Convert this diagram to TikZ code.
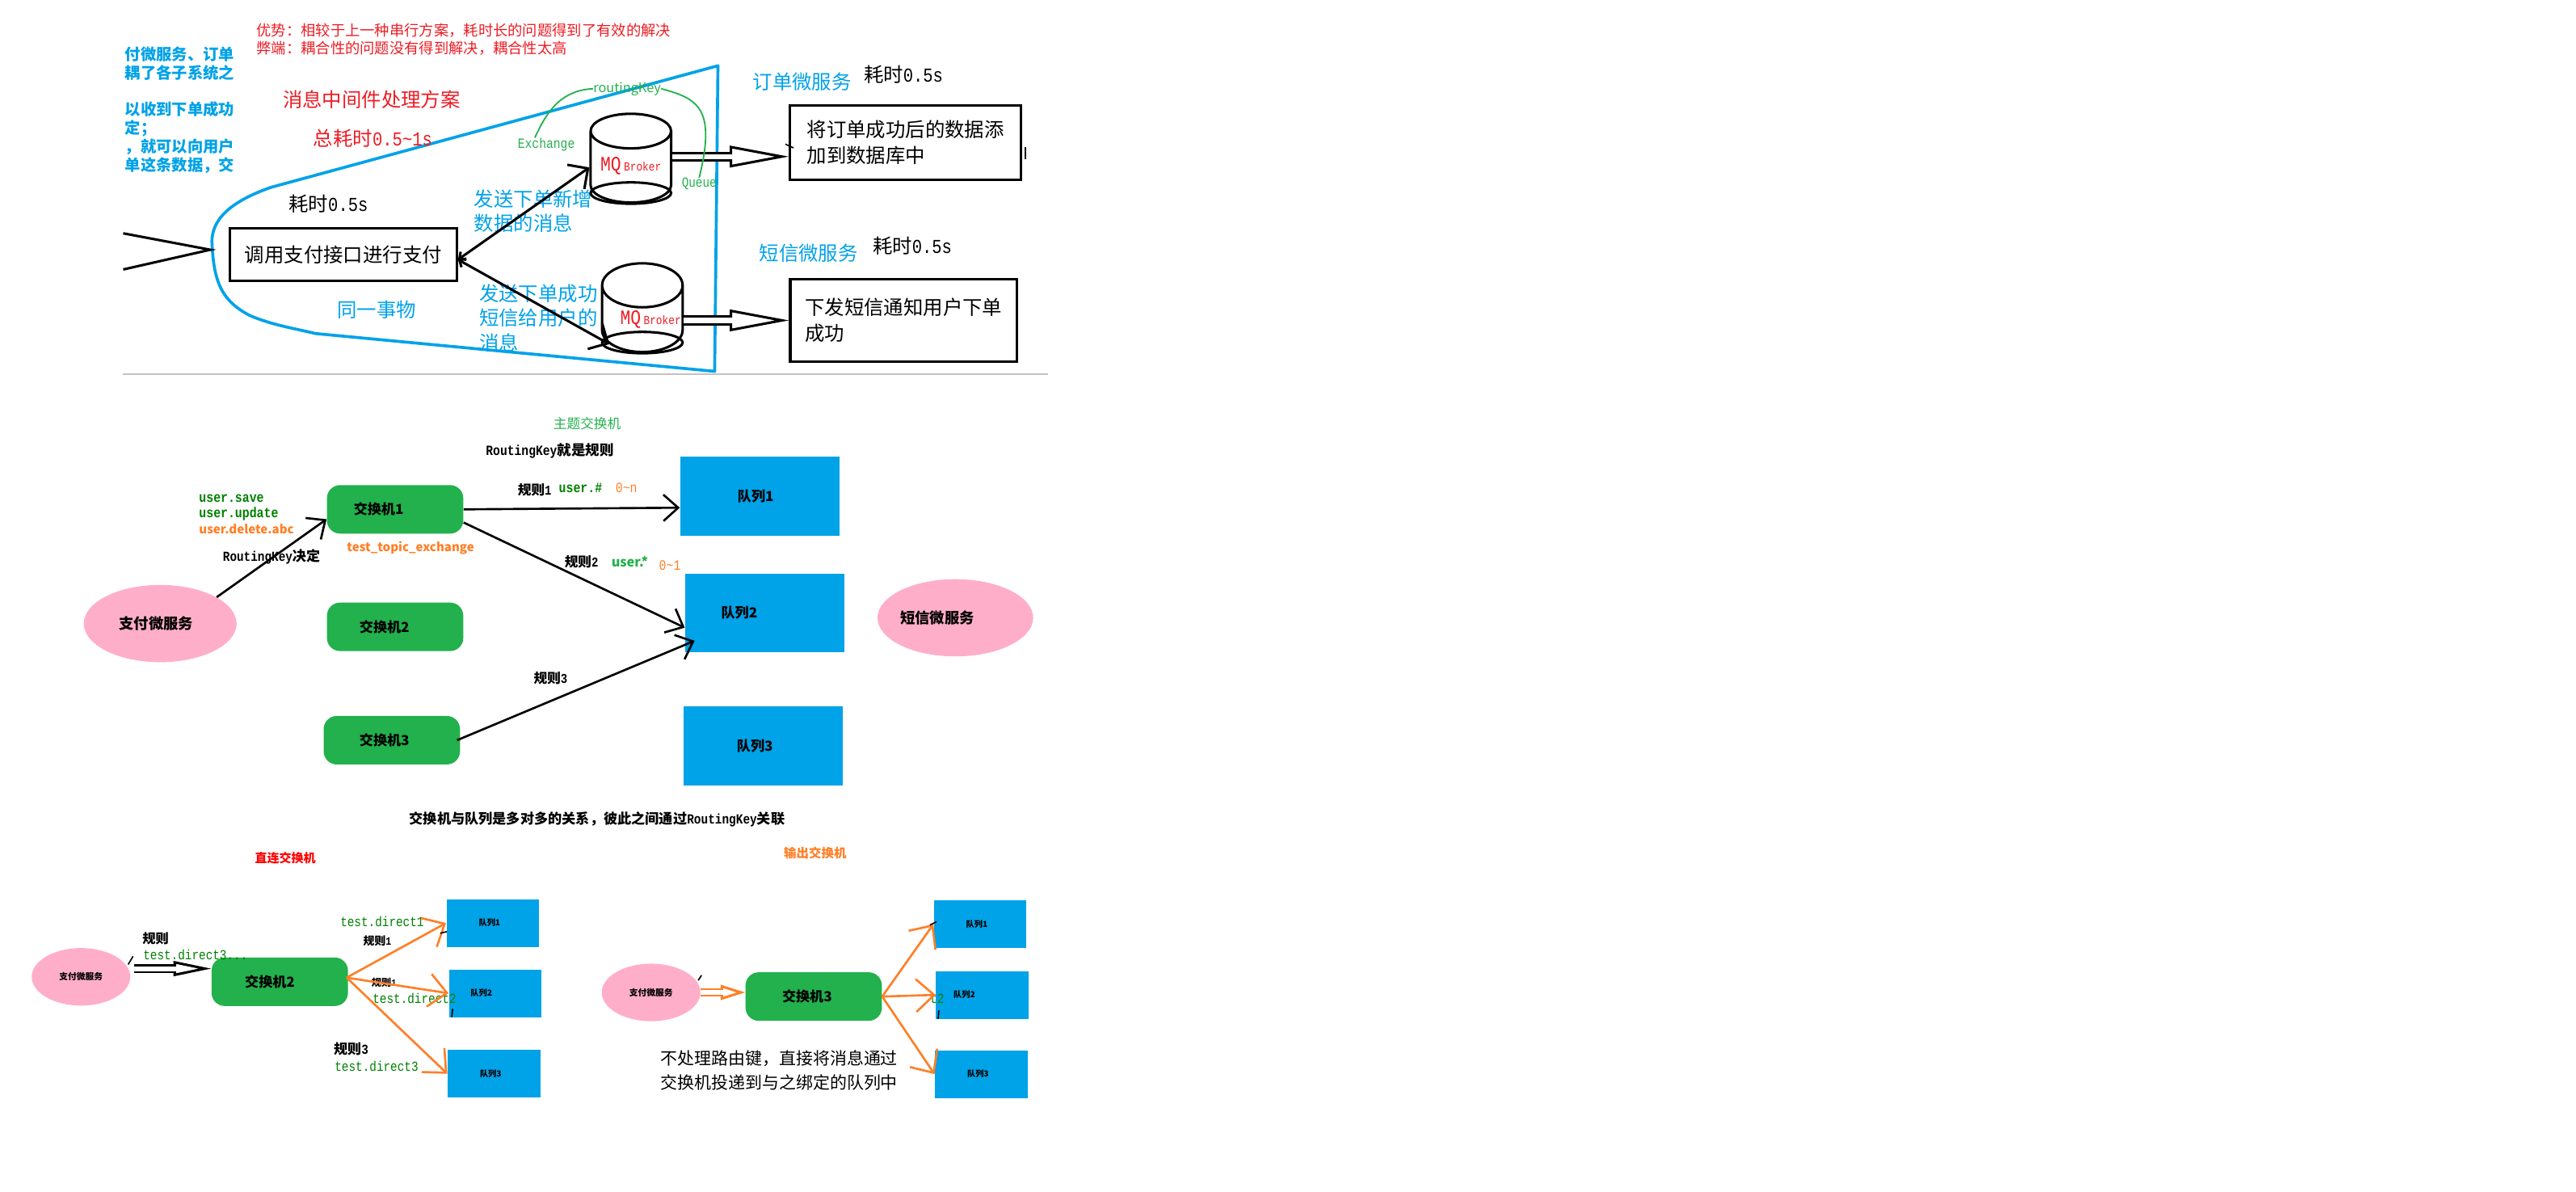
\documentclass[tikz,border=0pt]{standalone}
\usepackage{fontspec}
\setmainfont{Noto Sans CJK SC}
\setmonofont[FakeStretch=0.84]{Liberation Mono}
\usetikzlibrary{arrows.meta,positioning,shapes.geometric}
\definecolor{skyb}{HTML}{00A2E8}
\definecolor{exgreen}{HTML}{22B14C}
\definecolor{keygreen}{HTML}{008000}
\definecolor{msorange}{HTML}{FF7F27}
\definecolor{mspink}{HTML}{FFAEC9}
\definecolor{msred}{HTML}{ED1C24}
\newcommand{\zcomma}{\char"FF0C\relax}
\newcommand{\zcolon}{\char"FF1A\relax}
\newcommand{\zsemi}{\char"FF1B\relax}
\begin{document}
\begin{tikzpicture}[
  x=1pt, y=-1pt,
  sz/.style 2 args={font=\fontsize{#1}{#2}\selectfont},
  txt/.style={inner sep=0pt, anchor=west, align=left},
  pbox/.style={rectangle, draw, line width=1.6pt, align=left, inner sep=0pt, sz={12}{15.5}},
  cyl/.style={cylinder, shape border rotate=90, aspect=0.57, anchor=south, draw, line width=1.5pt, inner sep=0pt, minimum width=49pt, minimum height=54pt},
  cylend/.style={ellipse, draw, line width=1.5pt, inner sep=0pt, minimum width=49pt, minimum height=13pt},
  exch/.style={rectangle, rounded corners=8pt, fill=exgreen, minimum width=83pt, minimum height=29.5pt, inner sep=0pt, font=\fontsize{8.4}{10}\selectfont\bfseries},
  que/.style={rectangle, fill=skyb, minimum width=97pt, minimum height=48pt, inner sep=0pt, font=\fontsize{8.4}{10}\selectfont\bfseries},
  quesm/.style={rectangle, fill=skyb, minimum width=56.5pt, minimum height=29pt, inner sep=0pt, font=\fontsize{5}{6}\selectfont\bfseries},
  svc/.style={ellipse, fill=mspink, minimum width=93pt, minimum height=47pt, inner sep=0pt, font=\fontsize{9}{10}\selectfont\bfseries},
  svcsm/.style={ellipse, fill=mspink, minimum width=60pt, minimum height=35pt, inner sep=0pt, font=\fontsize{5.3}{6}\selectfont\bfseries},
  arr/.style={-{Straight Barb[length=9pt,width=16pt]}, line width=1.3pt},
  barr/.style={{Straight Barb[length=3pt,width=6pt]}-{Straight Barb[length=9pt,width=18pt]}, line width=1.5pt},
  oarr/.style={-{Straight Barb[length=11pt,width=20pt]}, line width=1.3pt, draw=msorange},
  hollow/.style n args={3}{line width=1.5pt, double=white, double distance=3pt, arrows={#3-{Triangle[open,length=#1,width=#2,line width=1.5pt]}}, postaction={draw=white, double=none, line width=3pt, -, shorten >=#1-3pt}},
  kbrace/.style={draw=exgreen, line width=0.9pt}
]
\useasboundingbox (0,0) rectangle (1568,725);

\draw[skyb, line width=1.8pt, line join=round] (437,40) -- (165,114) .. controls (145,121) and (129,131) .. (129,147) .. controls (130,172) and (135,183) .. (152,192) .. controls (166,198) and (180,200) .. (192,203) -- (435,226) -- cycle;
\coordinate (ruleL) at (75,227.5);
\coordinate (ruleR) at (638,227.5);
\draw[black!24, line width=1pt] (ruleL) -- (ruleR);

\node[txt, text=skyb, font=\fontsize{9.5}{11.3}\selectfont\bfseries] (cutnote) at (76,67) {付微服务、订单\\耦了各子系统之\\[11.3pt]以收到下单成功\\定\zsemi\\\zcomma 就可以向用户\\单这条数据\zcomma 交};
\node[txt, sz={9}{11}, text=msred] (gain) at (156,24) {优势\zcolon 相较于上一种串行方案\zcomma 耗时长的问题得到了有效的解决\\弊端\zcolon 耦合性的问题没有得到解决\zcomma 耦合性太高};
\node[txt, sz={12}{15}, text=msred] (plan) at (172,60.6) {消息中间件处理方案};
\node[txt, sz={12}{15}, text=msred] (total) at (190.6,84) {总耗时{\ttfamily 0.5\textasciitilde 1s}};
\node[txt, sz={12}{15}] (costpay) at (175.6,124) {耗时{\ttfamily 0.5s}};
\node[pbox, minimum width=138pt, minimum height=32pt] (pay) at (209,155) {调用支付接口进行支付};
\node[txt, sz={12}{15}, text=skyb] (sametx) at (205,188.5) {同一事物};
\node[txt, sz={12}{15}, text=skyb] (sendorder) at (288.5,128.5) {发送下单新增\\数据的消息};
\node[txt, sz={12}{15}, text=skyb] (sendmsg) at (291.5,193.5) {发送下单成功\\短信给用户的\\消息};

\node[cyl, text=msred] (mq1) at (384,124) {\raisebox{4pt}{{\fontsize{12.5}{14}\selectfont\ttfamily MQ}\,{\fontsize{7.5}{9}\selectfont\ttfamily Broker}}};
\node[cylend] (mq1end) at ([yshift=6.5pt]mq1.south) {};
\node[cyl, text=msred] (mq2) at (391,215) {\hspace*{10pt}\raisebox{2pt}{{\fontsize{12.5}{14}\selectfont\ttfamily MQ}\,{\fontsize{7.5}{9}\selectfont\ttfamily Broker}}};
\node[cylend] (mq2end) at ([yshift=6.5pt]mq2.south) {};

\node[txt, sz={8.6}{10}, text=exgreen] (xlabel) at (315,88) {\ttfamily Exchange};
\node[txt, sz={8}{10}, text=exgreen] (rklabel) at (361,54) {routingKey};
\node[txt, sz={8.4}{10}, text=exgreen] (qlabel) at (414.8,112) {\ttfamily Queue};

\node[txt, sz={12}{15}, text=skyb] (ordersvc) at (458,50) {订单微服务};
\node[txt, sz={12}{15}] (costorder) at (525.6,45.6) {耗时{\ttfamily 0.5s}};
\node[pbox, minimum width=140.5pt, minimum height=45.5pt] (orderbox) at (551.2,86.8) {将订单成功后的数据添\\加到数据库中};
\node[txt, sz={12}{15}, text=skyb] (msgsvc) at (462,154) {短信微服务};
\node[txt, sz={12}{15}] (costmsg) at (531,149.6) {耗时{\ttfamily 0.5s}};
\node[pbox, minimum width=138pt, minimum height=50pt] (msgbox) at (550,195) {下发短信通知用户下单\\成功};
\coordinate (orderin) at ([yshift=-8.5pt]orderbox.west);

\draw[barr] ([yshift=-3pt]pay.east) -- (mq1.west);
\draw[barr] ([yshift=-3pt]pay.east) -- (mq2.217);
\draw[hollow={36pt}{13pt}{}] (mq1.east |- orderin) -- (orderin);
\draw[hollow={36pt}{13pt}{}] (mq2.east |- msgbox.west) -- (msgbox.west);
\draw[kbrace] (xlabel.north) ++(-7pt,0pt) .. controls (332,70) and (340,55) .. (rklabel.west);
\draw[kbrace] (rklabel.east) .. controls (425,60) and (436,66) .. (qlabel.north);

\coordinate (handtop) at (75,142);
\coordinate (handtip) at (128,152);
\coordinate (handbot) at (75,164);
\draw[line width=1.5pt] (handtop) -- (handtip) -- (handbot);

\node[txt, sz={8.2}{10}, text=exgreen] (topichead) at (336.7,258) {主题交换机};
\node[txt, font=\fontsize{8.6}{10}\selectfont\bfseries] (rkrule) at (295.6,274.6) {{\ttfamily RoutingKey}就是规则};
\node[svc] (paysvc) at (97.5,379.5) {支付微服务\kern5pt};
\node[exch] (ex1) at (240.5,310) {交换机1\kern20pt};
\node[exch] (ex2) at (240.5,381.5) {交换机2\kern13pt};
\node[exch] (ex3) at (238.5,450.5) {交换机3\kern9pt};
\node[que] (q1) at (462.5,302) {队列1\kern5pt};
\node[que] (q2) at (465.5,373) {队列2\kern31pt};
\node[que] (q3) at (464.5,454) {队列3\kern10pt};
\node[svc] (smssvc) at (581.5,376) {短信微服务\kern22pt};

\node[txt, font=\fontsize{8.7}{10}\selectfont\ttfamily\bfseries, text=keygreen] (ksave) at (121,303.4) {user.save};
\node[txt, font=\fontsize{8.7}{10}\selectfont\ttfamily\bfseries, text=keygreen] (kupdate) at (121,313) {user.update};
\node[txt, font=\fontsize{7.4}{10}\selectfont\bfseries, text=msorange] (kdelete) at (121,321.8) {user.delete.abc};
\node[txt, font=\fontsize{8.4}{10}\selectfont\bfseries] (rkdecide) at (135.5,338.6) {{\ttfamily RoutingKey}决定};
\node[txt, font=\fontsize{7.4}{10}\selectfont\bfseries, text=msorange] (extopic) at (211,333.6) {test\_topic\_exchange};
\node[txt, font=\fontsize{8.2}{10}\selectfont\bfseries] (r1) at (315,298) {规则{\ttfamily 1}};
\node[txt, font=\fontsize{8.7}{10}\selectfont\ttfamily\bfseries, text=keygreen] (k1) at (340,297) {user.\#};
\node[txt, font=\fontsize{8.7}{10}\selectfont\ttfamily, text=msorange] (c1) at (374.5,297) {0\textasciitilde n};
\node[txt, font=\fontsize{8.2}{10}\selectfont\bfseries] (r2) at (343.5,342) {规则{\ttfamily 2}};
\node[txt, font=\fontsize{8}{10}\selectfont\bfseries\itshape, text=exgreen] (k2) at (372,342) {user.*};
\node[txt, font=\fontsize{8.7}{10}\selectfont\ttfamily, text=msorange] (c2) at (401,344) {0\textasciitilde 1};
\node[txt, font=\fontsize{8.2}{10}\selectfont\bfseries] (r3) at (324.7,412.7) {规则{\ttfamily 3}};
\node[txt, font=\fontsize{8.45}{10}\selectfont\bfseries] (manymany) at (249,498.5) {交换机与队列是多对多的关系\zcomma 彼此之间通过{\ttfamily RoutingKey}关联};

\draw[arr] (paysvc.25) -- ([yshift=-6pt]ex1.west);
\draw[arr] (ex1.east) -- ([yshift=-7pt]q1.west);
\draw[arr] ([yshift=-8pt]ex1.east) -- ([yshift=-9pt]q2.west);
\draw[arr] ([xshift=-2pt]ex3.east) -- ([xshift=6pt,yshift=-17pt]q2.west);

\node[txt, font=\fontsize{7.4}{9}\selectfont\bfseries, text=red] (directhead) at (155,522) {直连交换机};
\node[svcsm] (payd) at (49.3,594.5) {支付微服务};
\node[exch] (exd) at (170.3,597.5) {交换机2\kern12pt};
\node[quesm] (qd1) at (300,561.75) {队列1\kern4pt};
\node[quesm] (qd2) at (301.5,604.5) {队列2\kern17pt};
\node[quesm] (qd3) at (300.7,653.5) {队列3\kern4pt};
\node[txt, font=\fontsize{8}{10}\selectfont\bfseries] (rd0) at (86.6,571) {规则};
\node[txt, font=\fontsize{8.4}{10}\selectfont\ttfamily, text=keygreen] (kd0) at (87,581.3) {test.direct3...};
\node[txt, font=\fontsize{8.4}{10}\selectfont\ttfamily, text=keygreen] (kd1) at (207,560.7) {test.direct1};
\node[txt, font=\fontsize{6.8}{8}\selectfont\bfseries] (rd1) at (221,572.5) {规则{\ttfamily 1}};
\node[txt, font=\fontsize{6}{8}\selectfont\bfseries] (rd2) at (226,598) {规则{\ttfamily 1}};
\node[txt, font=\fontsize{8.4}{10}\selectfont\ttfamily, text=keygreen] (kd2) at (226.7,607.6) {test.direct2};
\node[txt, font=\fontsize{8.4}{10}\selectfont\bfseries] (rd3) at (203,638.6) {规则{\ttfamily 3}};
\node[txt, font=\fontsize{8.4}{10}\selectfont\ttfamily, text=keygreen] (kd3) at (203.6,648.8) {test.direct3};

\draw[hollow={23pt}{9pt}{{Bar[width=5.2pt,line width=1.2pt]}}, line width=1.2pt, double distance=2.6pt] (payd.east) ++(2pt,5pt) coordinate (payout) -- (exd.west |- payout);
\draw[oarr] (exd.east) ++(-1pt,2.5pt) coordinate (exdout) -- (qd1.west);
\draw[oarr] (exdout) -- (qd2.west);
\draw[oarr] (exdout) -- (qd3.west);

\node[txt, font=\fontsize{7.6}{9}\selectfont\bfseries, text=msorange] (fanouthead) at (477,519) {输出交换机};
\node[svcsm] (payf) at (396.3,604) {支付微服务};
\node[exch] (exf) at (495.3,606.5) {交换机3\kern8pt};
\node[quesm] (qf1) at (596.6,562.5) {队列1\kern4pt};
\node[quesm] (qf2) at (598,605.5) {队列2\kern22pt};
\node[quesm] (qf3) at (597.3,653.75) {队列3\kern4pt};
\node[txt, sz={10.3}{15}] (fanoutnote) at (402,651.5) {不处理路由键\zcomma 直接将消息通过\\交换机投递到与之绑定的队列中};
\node[txt, font=\fontsize{8.4}{10}\selectfont\ttfamily, text=keygreen] (ktail) at (566,608) {t2};

\draw[hollow={15pt}{9pt}{}, line width=1.2pt, double distance=2.6pt, draw=msorange] (payf.east) -- (exf.west |- payf.east);
\draw[oarr] (exf.east) -- (qf1.west);
\draw[oarr] (exf.east) -- (qf2.west);
\draw[oarr] (exf.east) -- (qf3.west);

\foreach \xa/\ya/\xb/\yb in {81/582/78/587, 427/593.6/425/596.6, 275.5/614/275/619, 571.5/615/571/620, 624/89.5/624/97, 478/87.7/483/90, 268/568/272/567, 566/563/570/561}
  \draw[line width=0.8pt] (\xa,\ya) -- (\xb,\yb);

\end{tikzpicture}
\end{document}
